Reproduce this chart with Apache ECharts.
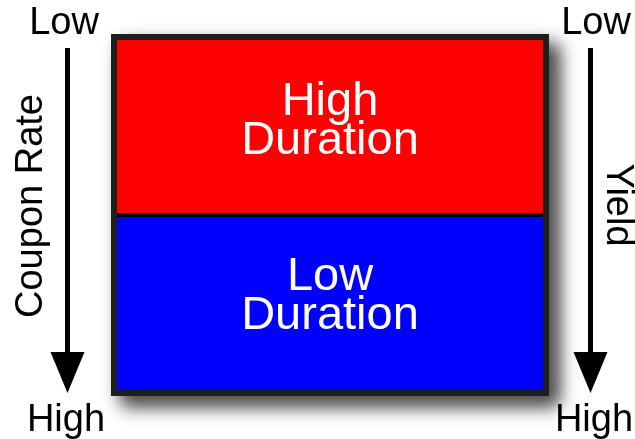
<!DOCTYPE html>
<html>
<head>
<meta charset="utf-8">
<script src="https://cdn.jsdelivr.net/npm/echarts@6/dist/echarts.min.js"></script>
<style>
  html, body { margin: 0; padding: 0; background: #fff; }
  #main { width: 635px; height: 439px; }
</style>
</head>
<body>
<div id="main"></div>
<script>
// bottom to top, each block takes half of the box
var blockNames = ['Low\nDuration', 'High\nDuration'];
var blockShare = [1, 1];
var scaleEnds = ['Low', 'High'];
var scaleNames = ['Coupon Rate', 'Yield'];

var chart = echarts.init(document.getElementById('main'));
var FONT = '"Liberation Sans", Arial, sans-serif';

function sideText(txt, x, y, rot) {
  return {
    type: 'text',
    x: x, y: y,
    rotation: rot || 0,
    silent: true,
    style: {
      text: txt,
      fill: '#000',
      font: '38px ' + FONT,
      align: 'center', verticalAlign: 'middle',
      textAlign: 'center', textVerticalAlign: 'middle'
    }
  };
}

function arrow(x) {
  return [{
    type: 'line',
    silent: true,
    shape: { x1: x, y1: 48, x2: x, y2: 356 },
    style: { stroke: '#000', lineWidth: 5 }
  }, {
    type: 'polygon',
    silent: true,
    shape: { points: [[x - 17, 352], [x + 17, 352], [x, 393]] },
    style: { fill: '#000' }
  }];
}

var blockColors = ['#0000ff', '#ff0000'];

var option = {
  backgroundColor: '#fff',
  animation: false,
  grid: {
    left: 117, right: 92, top: 40, bottom: 49,
    show: true,
    backgroundColor: '#222',
    borderColor: '#1e1e1e',
    borderWidth: 12,
    shadowColor: 'rgba(0,0,0,0.7)',
    shadowBlur: 18,
    shadowOffsetX: 10,
    shadowOffsetY: 10
  },
  xAxis: { type: 'category', data: [''], show: false },
  yAxis: { type: 'value', min: 0, max: 2, show: false },
  series: blockNames.map(function (name, i) {
    var s = {
      type: 'bar',
      name: name,
      stack: 'box',
      barWidth: '100%',
      data: [blockShare[i]],
      itemStyle: { color: blockColors[i] },
      label: {
        show: true,
        position: 'inside',
        offset: [0, -6],
        formatter: name,
        color: '#fff',
        fontFamily: FONT,
        fontSize: 47,
        lineHeight: 39
      }
    };
    if (i === 0) {
      s.markLine = {
        silent: true,
        symbol: 'none',
        label: { show: false },
        lineStyle: { color: '#000', width: 4, type: 'solid' },
        data: [{ yAxis: blockShare[0] }]
      };
    }
    return s;
  }),
  graphic: [].concat(
    arrow(67.5),
    arrow(590.5),
    [
      sideText(scaleEnds[0], 64, 24),
      sideText(scaleEnds[1], 66, 421),
      sideText(scaleEnds[0], 596, 24),
      sideText(scaleEnds[1], 594, 421),
      sideText(scaleNames[0], 32, 206, Math.PI / 2),
      sideText(scaleNames[1], 617, 205, -Math.PI / 2)
    ]
  )
};

chart.setOption(option);
</script>
</body>
</html>
